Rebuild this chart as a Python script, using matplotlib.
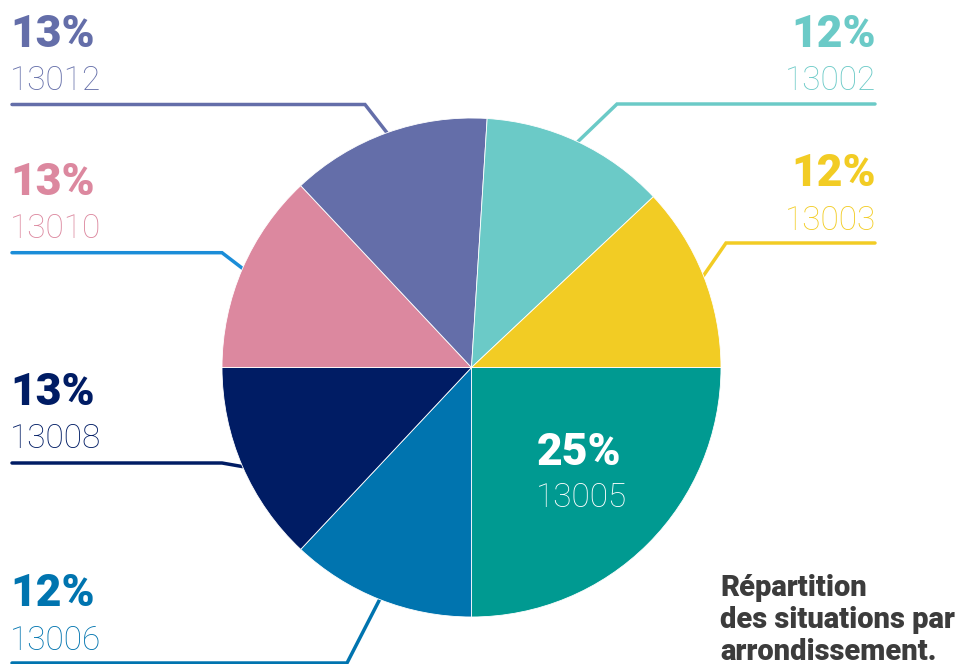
import matplotlib
matplotlib.use("Agg")
import matplotlib.pyplot as plt
import numpy as np

# ---- data ----
districts = ["13005", "13006", "13008", "13010", "13012", "13002", "13003"]
shares = [25, 12, 13, 13, 13, 12, 12]
pct_labels = ["25%", "12%", "13%", "13%", "13%", "12%", "12%"]
colors = ["#009A91", "#0074AF", "#001C64", "#DC889F", "#646EA9", "#6BCAC7", "#F2CC24"]
line_colors = ["#009A91", "#0074AF", "#001C64", "#1B8DD8", "#646EA9", "#6BCAC7", "#F2CC24"]
title_lines = ["Répartition", "des situations par", "arrondissement."]

W, H = 968, 664
def Y(y):
    return H - y

fig = plt.figure(figsize=(W / 100, H / 100), dpi=100)
ax = fig.add_axes([0, 0, 1, 1])

cx, cy, R = 471.5, Y(367.5), 249.5
wedges, _ = ax.pie(shares, colors=colors, startangle=0, counterclock=False,
                   center=(cx, cy), radius=R,
                   wedgeprops=dict(linewidth=0.6, edgecolor="white"))
for w in wedges:
    w.set_zorder(3)

ax.set_xlim(0, W)
ax.set_ylim(0, H)
ax.set_aspect("equal")
ax.axis("off")

# layout for leader lines / labels: (side, line_y, elbow_x, end_x, pct_baseline, num_baseline)
layout = {
    "13012": ("left", 104.5, 365, 12, 47, 90),
    "13010": ("left", 252.7, 222, 12, 195, 238),
    "13008": ("left", 463, 222, 12, 405, 448),
    "13006": ("left", 663, 347, 12, 606, 650),
    "13002": ("right", 104, 617, 875, 47, 90),
    "13003": ("right", 243, 726, 875, 186, 230),
}

PCT_FONT = dict(family="Roboto", weight="black", size=32)
NUM_FONT = dict(family="Roboto", weight="light", size=24)

for i, d in enumerate(districts):
    w = wedges[i]
    mid = np.deg2rad((w.theta1 + w.theta2) / 2)
    ax_, ay_ = cx + R * np.cos(mid), cy + R * np.sin(mid)
    if d in layout:
        side, ly, ex, endx, pb, nb = layout[d]
        ax.plot([endx, ex, ax_], [Y(ly), Y(ly), ay_], color=line_colors[i], lw=2.5,
                solid_capstyle="round", solid_joinstyle="miter", zorder=1)
        ha = "left" if side == "left" else "right"
        tx = endx - 2 if side == "left" else endx + 1
        ax.text(tx, Y(pb), pct_labels[i], ha=ha, va="baseline", color=colors[i], **PCT_FONT)
        ax.text(tx, Y(nb), d, ha=ha, va="baseline", color=colors[i], **NUM_FONT)
    else:
        ax.text(537, Y(465), pct_labels[i], ha="left", va="baseline", color="white", zorder=5, **PCT_FONT)
        ax.text(536, Y(507), d, ha="left", va="baseline", color="white", zorder=5, **NUM_FONT)

for k, line in enumerate(title_lines):
    ax.text(720, Y(596 + 32 * k), line, ha="left", va="baseline", color="#3C3C3C",
            family="Roboto", weight="black", size=21)

fig.savefig("out.png", dpi=100)
